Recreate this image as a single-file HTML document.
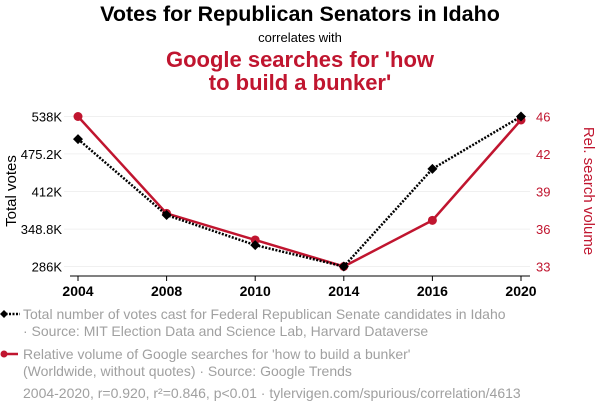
<!DOCTYPE html>
<html><head><meta charset="utf-8"><style>
body{margin:0;background:#fff;width:600px;height:414px;overflow:hidden;font-family:"Liberation Sans",sans-serif}
</style></head><body>
<svg id="c" width="600" height="414" xmlns="http://www.w3.org/2000/svg" font-family="Liberation Sans, sans-serif">
<text x="300" y="21" text-anchor="middle" font-size="21.5" font-weight="bold" fill="#000">Votes for Republican Senators in Idaho</text>
<text x="300" y="42" text-anchor="middle" font-size="13" fill="#000">correlates with</text>
<text x="300" y="67" text-anchor="middle" font-size="22" font-weight="bold" fill="#c0152f">Google searches for 'how</text>
<text x="300" y="90" text-anchor="middle" font-size="22" font-weight="bold" fill="#c0152f">to build a bunker'</text>
<g id="plot"></g>
<text transform="translate(16,191) rotate(-90)" text-anchor="middle" font-size="15" fill="#000">Total votes</text>
<text transform="translate(584,191) rotate(90)" text-anchor="middle" font-size="15" fill="#c0152f">Rel. search volume</text>
<g>
<line x1="2" y1="314" x2="20" y2="314" stroke="#000" stroke-width="2.5" stroke-dasharray="2,1.5"/>
<path d="M4 310 L8 314 L4 318 L0 314Z" fill="#000"/>
<text x="23" y="319" font-size="14" fill="#a0a0a0">Total number of votes cast for Federal Republican Senate candidates in Idaho</text>
<text x="23" y="336" font-size="14" fill="#a0a0a0">· Source: MIT Election Data and Science Lab, Harvard Dataverse</text>
</g>
<g>
<line x1="2" y1="354" x2="18" y2="354" stroke="#c0152f" stroke-width="2.5"/>
<circle cx="4" cy="354" r="3.5" fill="#c0152f"/>
<text x="23" y="359" font-size="14" fill="#a0a0a0">Relative volume of Google searches for 'how to build a bunker'</text>
<text x="23" y="376" font-size="14" fill="#a0a0a0">(Worldwide, without quotes) · Source: Google Trends</text>
</g>
<text x="23" y="398" font-size="14" fill="#a0a0a0">2004-2020, r=0.920, r²=0.846, p&lt;0.01 · tylervigen.com/spurious/correlation/4613</text>
</svg>
<script>
const years=["2004","2008","2010","2014","2016","2020"];
const votes=[500,372.5,322,286,450,538];
const search=[46,37.6,35.3,33,37,45.7];
const leftTicks=[286,348.8,412,475.2,538];
const leftLabels=["286K","348.8K","412K","475.2K","538K"];
const rightTicks=[33,36.25,39.5,42.75,46];
const rightLabels=["33","36","39","42","46"];
const NS="http://www.w3.org/2000/svg";
const g=document.getElementById('plot');
function mk(t,a){const e=document.createElementNS(NS,t);for(const k in a)e.setAttribute(k,a[k]);g.appendChild(e);return e;}
const yTop=116.5,yBot=266.5,xL=78,xR=521;
const xs=i=>xL+i*(xR-xL)/(years.length-1);
const yl=v=>yBot-(v-286)/(538-286)*(yBot-yTop);
const yr=v=>yBot-(v-33)/(46-33)*(yBot-yTop);
leftTicks.forEach((v,i)=>{
 const y=yl(v);
 let l=mk('line',{x1:64,x2:530,y1:y,y2:y,stroke:'#f0f0f0','stroke-width':1});
 
 
 let t=mk('text',{x:62,y:y+5,'text-anchor':'end','font-size':13,fill:'#000'});t.textContent=leftLabels[i];
 
 
});
rightTicks.forEach((v,i)=>{
 const y=yr(v);
 let t=mk('text',{x:536,y:y+5,'font-size':13,fill:'#c0152f'});t.textContent=rightLabels[i];
 
 
});
let ax=mk('line',{x1:70,x2:530,y1:276,y2:276,stroke:'#000','stroke-width':1});


years.forEach((yv,i)=>{
 mk('line',{x1:xs(i),x2:xs(i),y1:276,y2:281,stroke:'#000'});
 let t=mk('text',{x:xs(i),y:296,'text-anchor':'middle','font-size':14,'font-weight':'bold',fill:'#000'});t.textContent=yv;
 
 
});
let pr=mk('polyline',{points:search.map((v,i)=>xs(i)+','+yr(v)).join(' '),fill:'none',stroke:'#c0152f','stroke-width':2.5});


search.forEach((v,i)=>{let c=mk('circle',{cx:xs(i),cy:yr(v),r:4.5,fill:'#c0152f'});
 
 });
let pb=mk('polyline',{points:votes.map((v,i)=>xs(i)+','+yl(v)).join(' '),fill:'none',stroke:'#000','stroke-width':2.5,'stroke-dasharray':'2,1.5'});


votes.forEach((v,i)=>{const x=xs(i),y=yl(v);
 let d=mk('path',{d:`M${x} ${y-5}L${x+5} ${y}L${x} ${y+5}L${x-5} ${y}Z`,fill:'#000'});
 
 });
</script>
</body></html>
